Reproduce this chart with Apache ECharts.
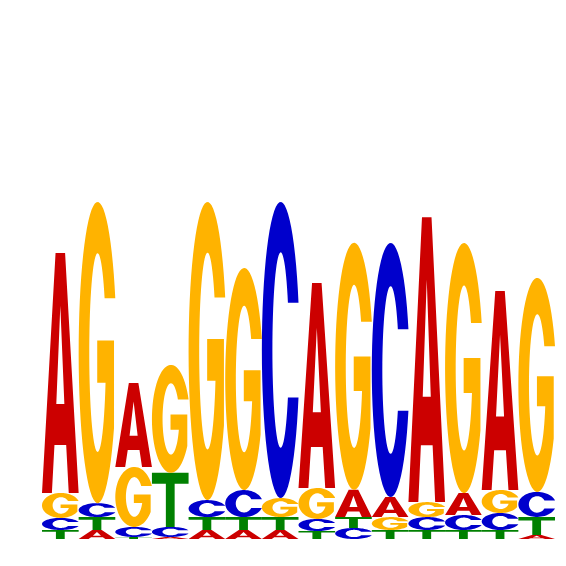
<!DOCTYPE html>
<html><head><meta charset="utf-8">
<script src="https://cdn.jsdelivr.net/npm/echarts@6/dist/echarts.min.js"></script>
<style>html,body{margin:0;background:#fff}#c{width:566px;height:566px}</style>
</head><body><div id="c"></div>
<script>
// Sequence logo: information content (bits) per letter per position
const positions = ['1','2','3','4','5','6','7','8','9','10','11','12','13','14'];
const letters = ['A','C','G','T'];
const A_bits = [1.412, 0.053, 0.494, 0.012, 0.053, 0.053, 0.053, 1.206, 0.159, 0.118, 1.676, 0.129, 1.171, 0.024];
const C_bits = [0.071, 0.082, 0.059, 0.059, 0.100, 0.159, 1.741, 0.071, 0.065, 1.494, 0.076, 0.088, 0.100, 0.147];
const G_bits = [0.147, 1.771, 0.353, 0.635, 1.753, 1.306, 0.112, 0.182, 1.453, 0.076, 0.088, 1.471, 0.135, 1.259];
const T_bits = [0.053, 0.076, 0.012, 0.318, 0.076, 0.076, 0.076, 0.047, 0.065, 0.053, 0.053, 0.053, 0.053, 0.106];
const letterColors = ['#CC0000', '#0000CC', '#FFB300', '#008000'];

// ---- glyph outlines (unit box 0..100) ----
function arcPts(cx, cy, rx, ry, a0, a1, n) {
  const pts = [];
  for (let k = 0; k <= n; k++) {
    const a = (a0 + (a1 - a0) * k / n) * Math.PI / 180;
    pts.push([cx + rx * Math.cos(a), cy - ry * Math.sin(a)]);
  }
  return pts;
}
function toPath(pts) {
  return 'M' + pts.map(p => p[0].toFixed(2) + ',' + p[1].toFixed(2)).join('L') + 'Z';
}
const glyphA = 'M0,100L37,0L63,0L100,100L73,100L66,80L34,80L27,100Z M50,22L39,63L61,63Z';
const glyphT = 'M0,0L100,0L100,20L62,20L62,100L38,100L38,20L0,20Z';
function glyphC() {
  const ro = 50, rix = 22, riy = 33;
  const t0 = Math.asin(16 / ro) * 180 / Math.PI;
  const p0 = Math.asin(16 / riy) * 180 / Math.PI;
  const outer = arcPts(50, 50, ro, ro, t0, 360 - t0, 60);
  const inner = arcPts(50, 50, rix, riy, 360 - p0, p0, 60);
  return toPath(outer.concat(inner));
}
function glyphG() {
  const ro = 50, rix = 22, riy = 33;
  const t0 = Math.asin(18 / ro) * 180 / Math.PI;
  const outer = arcPts(50, 50, ro, ro, t0, 330, 60);
  const xr = outer[outer.length - 1][0];
  const bar = [[xr, 46], [49, 46], [49, 60]];
  const phiS = 360 - Math.asin(10 / riy) * 180 / Math.PI;
  const phiE = Math.asin(18 / riy) * 180 / Math.PI;
  const inner = arcPts(50, 50, rix, riy, phiS, phiE, 60);
  return toPath(outer.concat(bar, inner));
}
const glyphs = [glyphA, glyphC(), glyphG(), glyphT];

// ---- stacked data: smallest at bottom ----
const series = [A_bits, C_bits, G_bits, T_bits];
const stackData = [];
positions.forEach((p, i) => {
  const items = letters.map((l, li) => ({ li, v: series[li][i] }));
  items.sort((a, b) => a.v - b.v);
  let base = 0;
  items.forEach(it => {
    stackData.push([i, base, base + it.v, it.li]);
    base += it.v;
  });
});

const chart = echarts.init(document.getElementById('c'), null, { renderer: 'canvas' });
chart.setOption({
  backgroundColor: '#ffffff',
  animation: false,
  grid: { left: 42, right: 11, top: 199, bottom: 27 },
  xAxis: { type: 'category', data: positions, show: false, boundaryGap: true },
  yAxis: { type: 'value', min: 0, max: 2, show: false },
  series: [{
    type: 'custom',
    data: stackData,
    encode: { x: 0, y: [1, 2] },
    renderItem: function (params, api) {
      const i = api.value(0), y0 = api.value(1), y1 = api.value(2), li = api.value(3);
      const pt = api.coord([i, y1]);
      const pb = api.coord([i, y0]);
      const w = api.size([1, 0])[0];
      const h = pb[1] - pt[1];
      if (h <= 0.2) return null;
      return {
        type: 'path',
        shape: { pathData: glyphs[li], x: pt[0] - w / 2, y: pt[1], width: w, height: h, layout: 'cover' },
        style: { fill: letterColors[li] }
      };
    }
  }]
});
</script></body></html>
